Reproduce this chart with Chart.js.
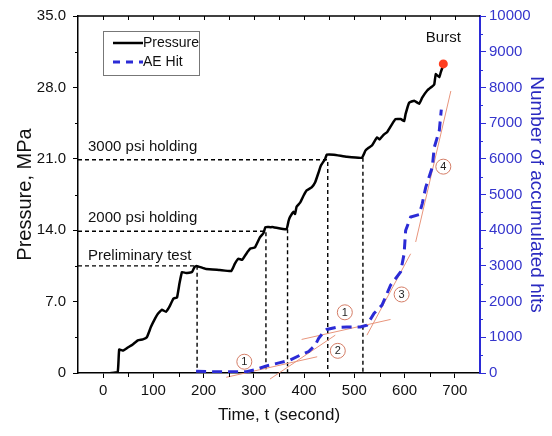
<!DOCTYPE html>
<html>
<head>
<meta charset="utf-8">
<script src="https://cdn.jsdelivr.net/npm/chart.js@4.4.1/dist/chart.umd.min.js"></script>
<style>
  html, body { margin: 0; padding: 0; background: #fff; }
</style>
</head>
<body>
<canvas id="burstChart" width="552" height="436"></canvas>
<script>
    // --- DATA ---
    // pressure trace (time in s, pressure in MPa)
    const pressureTime = [15, 29, 32, 40, 49, 59, 69, 79, 87, 95, 102, 109, 117, 125, 132, 140, 147, 152, 157, 165, 177, 182, 186,
        205, 232, 255, 262, 269, 277, 285, 293, 302, 312, 319, 323, 332, 339, 365, 369, 372, 379, 382, 385, 392, 399, 405, 415,
        422, 429, 433, 442, 445, 459, 485, 515, 522, 529, 535, 545, 550, 559, 565, 575, 582, 592, 599, 602, 609, 619, 629, 635,
        645, 655, 659, 662, 669, 672, 677];
    const pressureMPa = [0, 0.1, 2.3, 2.2, 2.5, 2.8, 3.2, 3.3, 3.5, 4.5, 5.2, 5.8, 6.2, 6.0, 6.5, 7.3, 7.4, 8.8, 9.9, 9.8, 9.9, 10.4, 10.5,
        10.2, 10.1, 10.0, 10.7, 11.2, 11.1, 11.7, 12.2, 12.3, 13.3, 13.7, 14.3, 14.3, 14.3, 14.1, 14.9, 15.3, 15.8, 15.6, 16.3, 16.7, 17.4, 17.9, 18.2,
        18.7, 19.7, 20.3, 21.0, 21.4, 21.4, 21.2, 21.1, 21.8, 22.1, 22.3, 23.1, 22.9, 23.4, 23.6, 24.4, 24.9, 24.9, 24.7, 25.4, 26.5, 26.7, 26.4, 27.0,
        27.7, 28.1, 28.3, 29.3, 29.0, 29.5, 30.2];

    // accumulated AE hits
    const aeTime = [185, 219, 285, 305, 325, 352, 372, 392, 409, 422, 429, 439, 445, 465, 485, 512, 525, 539, 555, 572, 592,
        599, 602, 612, 629, 635, 642, 655, 659, 669, 673];
    const aeHits = [50, 35, 35, 100, 200, 290, 360, 500, 600, 780, 970, 1150, 1220, 1280, 1290, 1290, 1340, 1670, 1900, 2460, 2830,
        3340, 3990, 4370, 4440, 4740, 5200, 5760, 6320, 6790, 7380];

    // fitted trend lines: start / end time and hits
    const fitTime = [[245, 426], [332, 462], [395, 572], [525, 612], [622, 692]];
    const fitHits = [[-120, 455], [-170, 1060], [940, 1500], [1060, 3340], [3670, 7900]];

    // circled stage marks
    const stageText = ['1', '2', '1', '3', '4'];
    const stageTime = [281, 467, 481, 594, 677];
    const stageHits = [316, 621, 1700, 2200, 5780];

    // holding levels
    const holdLabels = ['Preliminary test', '2000 psi holding', '3000 psi holding'];
    const holdMPa = [10.5, 13.9, 20.9];
    const holdStart = [187, 324, 447];
    const holdEnd = [187, 367, 517];
    const holdEndMPa = [10.5, 14.1, 21.1];

    const burstTime = [677];
    const burstMPa = [30.3];

    const timeTicks = [0, 100, 200, 300, 400, 500, 600, 700];
    const pressureTicks = [0, 7, 14, 21, 28, 35];
    const hitTicks = [0, 1000, 2000, 3000, 4000, 5000, 6000, 7000, 8000, 9000, 10000];

    const BLUE = '#2b2bd6';
    const FIT = '#e8957c';
    const FONT = 'Liberation Sans, Arial, sans-serif';

    // --- DATASETS ---
    const pts = (xs, ys) => xs.map((t, i) => ({ x: t, y: ys[i] }));

    const datasets = [
        { label: 'Burst', data: pts(burstTime, burstMPa), yAxisID: 'y', showLine: false,
          pointRadius: 4.5, pointBackgroundColor: '#ff3d1f', pointBorderWidth: 0 },
        { label: 'Pressure', data: pts(pressureTime, pressureMPa), yAxisID: 'y',
          borderColor: '#000', borderWidth: 2.5, pointRadius: 0, tension: 0.1 },
        { label: 'AE Hit', data: pts(aeTime, aeHits), yAxisID: 'y1',
          borderColor: BLUE, borderWidth: 3, borderDash: [10, 6], pointRadius: 0, tension: 0 }
    ];

    fitTime.forEach((ts, i) => {
        datasets.push({ label: 'fit' + i, data: pts(ts, fitHits[i]), yAxisID: 'y1',
            borderColor: FIT, borderWidth: 1, pointRadius: 0, clip: false });
    });

    holdMPa.forEach((h, i) => {
        const dash = { yAxisID: 'y', borderColor: '#000', borderWidth: 1.4, borderDash: [4, 3], pointRadius: 0 };
        datasets.push(Object.assign({ label: 'hold' + i,
            data: [{ x: -50, y: h }, { x: holdStart[i], y: h }, { x: holdStart[i], y: 0 }] }, dash));
        if (holdEnd[i] !== holdStart[i]) {
            datasets.push(Object.assign({ label: 'holdEnd' + i,
                data: [{ x: holdEnd[i], y: holdEndMPa[i] }, { x: holdEnd[i], y: 0 }] }, dash));
        }
    });

    // --- EXTRA DRAWING: frame ticks, labels, circled stages, legend ---
    const extras = {
        id: 'extras',
        afterDraw(chart) {
            const { ctx, chartArea: a } = chart;
            const { x, y, y1 } = chart.scales;
            ctx.save();

            // top frame with inward ticks
            ctx.strokeStyle = '#000';
            ctx.lineWidth = 1.5;
            ctx.beginPath(); ctx.moveTo(a.left, a.top); ctx.lineTo(a.right, a.top); ctx.stroke();
            ctx.lineWidth = 1;
            for (let t = 0; t <= 700; t += 50) {
                const px = Math.round(x.getPixelForValue(t)) + 0.5;
                ctx.beginPath(); ctx.moveTo(px, a.top); ctx.lineTo(px, a.top + 4); ctx.stroke();
                if (t % 100) {
                    ctx.beginPath(); ctx.moveTo(px, a.bottom); ctx.lineTo(px, a.bottom + 4); ctx.stroke();
                }
            }
            // left minor ticks
            for (let p = 3.5; p < 35; p += 7) {
                const py = Math.round(y.getPixelForValue(p)) + 0.5;
                ctx.beginPath(); ctx.moveTo(a.left, py); ctx.lineTo(a.left - 3, py); ctx.stroke();
            }
            // right minor ticks
            ctx.strokeStyle = BLUE;
            for (let h = 500; h < 10000; h += 1000) {
                const py = Math.round(y1.getPixelForValue(h)) + 0.5;
                ctx.beginPath(); ctx.moveTo(a.right, py); ctx.lineTo(a.right + 3, py); ctx.stroke();
            }

            // holding labels
            ctx.fillStyle = '#111';
            ctx.font = '15px ' + FONT;
            ctx.textAlign = 'left';
            ctx.textBaseline = 'alphabetic';
            const lift = [6, 9, 9];
            holdLabels.forEach((txt, i) => {
                ctx.fillText(txt, a.left + 10, y.getPixelForValue(holdMPa[i]) - lift[i]);
            });
            ctx.textAlign = 'center';
            ctx.textBaseline = 'middle';
            ctx.fillText('Burst', x.getPixelForValue(burstTime[0]), a.top + 22);

            // circled stage numbers
            ctx.font = '11px ' + FONT;
            stageText.forEach((s, i) => {
                const cx = x.getPixelForValue(stageTime[i]);
                const cy = y1.getPixelForValue(stageHits[i]);
                ctx.beginPath();
                ctx.arc(cx, cy, 7.5, 0, Math.PI * 2);
                ctx.fillStyle = '#fff';
                ctx.fill();
                ctx.strokeStyle = '#d47d66';
                ctx.lineWidth = 1;
                ctx.stroke();
                ctx.fillStyle = '#222';
                ctx.fillText(s, cx, cy + 0.5);
            });

            // legend box
            const lx = 103, ly = 31;
            ctx.fillStyle = '#fff';
            ctx.fillRect(lx, ly, 96, 44);
            ctx.strokeStyle = '#777';
            ctx.lineWidth = 1;
            ctx.strokeRect(lx + 0.5, ly + 0.5, 96, 44);
            ctx.font = '14px ' + FONT;
            ctx.textAlign = 'left';
            ctx.textBaseline = 'middle';
            [datasets[1], datasets[2]].forEach((ds, i) => {
                const ry = ly + 12 + i * 19;
                ctx.strokeStyle = ds.borderColor;
                ctx.lineWidth = ds.borderWidth;
                ctx.setLineDash(ds.borderDash ? [7, 6] : []);
                ctx.beginPath(); ctx.moveTo(lx + 10, ry); ctx.lineTo(lx + 40, ry); ctx.stroke();
                ctx.setLineDash([]);
                ctx.fillStyle = '#111';
                ctx.fillText(ds.label, lx + 40, ry);
            });
            ctx.restore();
        }
    };

    // --- CHART ---
    const ctx = document.getElementById('burstChart').getContext('2d');
    const burstChart = new Chart(ctx, {
        type: 'line',
        data: { datasets },
        options: {
            responsive: false,
            animation: false,
            devicePixelRatio: 1,
            layout: { padding: { top: 15, left: 0, right: 0, bottom: 0 } },
            plugins: { legend: { display: false }, tooltip: { enabled: false } },
            scales: {
                x: {
                    type: 'linear', min: -50, max: 750,
                    afterBuildTicks: s => { s.ticks = timeTicks.map(v => ({ value: v })); },
                    afterFit: s => { s.height = 63; },
                    grid: { drawOnChartArea: false, tickLength: 5, color: '#000' },
                    border: { color: '#000', width: 1.5 },
                    ticks: { color: '#111', font: { size: 15, family: FONT }, padding: 4, maxRotation: 0 },
                    title: { display: true, text: 'Time, t (second)', color: '#111',
                             font: { size: 17, family: FONT }, padding: { top: 0, bottom: 10 } }
                },
                y: {
                    position: 'left', min: 0, max: 35,
                    afterBuildTicks: s => { s.ticks = pressureTicks.map(v => ({ value: v })); },
                    afterFit: s => { s.width = 78; },
                    grid: { drawOnChartArea: false, tickLength: 5, color: '#000' },
                    border: { color: '#000', width: 1.5 },
                    ticks: { color: '#111', font: { size: 15, family: FONT }, padding: 7,
                             callback: v => v === 0 ? '0' : v.toFixed(1) },
                    title: { display: true, text: 'Pressure, MPa', color: '#111',
                             font: { size: 20, family: FONT }, padding: { top: 13, bottom: 0 } }
                },
                y1: {
                    position: 'right', min: 0, max: 10000,
                    afterBuildTicks: s => { s.ticks = hitTicks.map(v => ({ value: v })); },
                    afterFit: s => { s.width = 72; },
                    grid: { drawOnChartArea: false, tickLength: 6, color: BLUE },
                    border: { color: BLUE, width: 2 },
                    ticks: { color: '#3535cc', font: { size: 15, family: FONT }, padding: 3,
                             callback: v => String(v) },
                    title: { display: true, text: 'Number of accumulated hits', color: '#2a2ac0',
                             font: { size: 19, family: FONT }, padding: { top: 4, bottom: 0 } }
                }
            }
        },
        plugins: [extras]
    });
</script>
</body>
</html>
